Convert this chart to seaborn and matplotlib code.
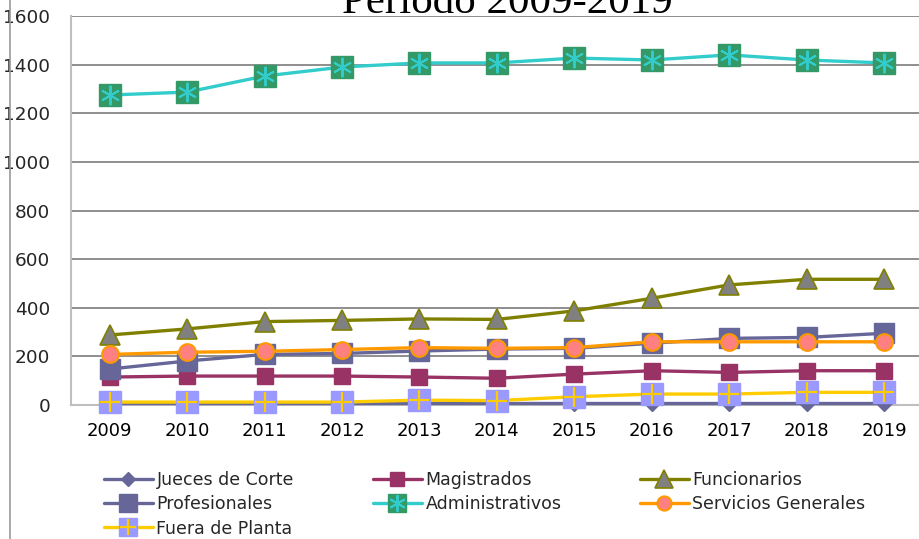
import matplotlib
matplotlib.use("Agg")
import matplotlib.pyplot as plt
import seaborn as sns
from matplotlib.lines import Line2D
from matplotlib.ticker import FixedLocator

years = [2009, 2010, 2011, 2012, 2013, 2014, 2015, 2016, 2017, 2018, 2019]
jueces = [7, 7, 7, 7, 7, 7, 7, 7, 7, 7, 7]
magistrados = [115, 119, 119, 119, 115, 110, 127, 141, 134, 141, 141]
funcionarios = [288, 313, 343, 348, 354, 352, 387, 439, 494, 517, 517]
profesionales = [148, 181, 208, 212, 222, 230, 233, 254, 274, 278, 295]
administrativos = [1275, 1287, 1353, 1390, 1407, 1407, 1427, 1419, 1440, 1419, 1407]
servicios = [208, 217, 221, 228, 236, 233, 236, 260, 260, 260, 260]
fuera = [12, 12, 12, 12, 20, 18, 34, 45, 45, 52, 52]
title = "Periodo 2009-2019"
yticks = [0, 200, 400, 600, 800, 1000, 1200, 1400, 1600]

sns.set_style("white")
plt.rcParams["font.family"] = ["DejaVu Sans"]

fig = plt.figure(figsize=(9.19, 5.39), dpi=100)
ax = fig.add_axes([71 / 919, 1 - 405 / 539, (922.75 - 71) / 919, (405 - 16) / 539])

lw = 2.4


def draw(vals, color, marker, ms, mfc, mec, mew=1.0, zorder=3):
    sns.lineplot(x=years, y=vals, ax=ax, color=color, lw=lw, marker=marker,
                 markersize=ms, markerfacecolor=mfc, markeredgecolor=mec,
                 markeredgewidth=mew, clip_on=False, zorder=zorder)
    return ax.lines[-1]


h_j = draw(jueces, "#666699", "D", 8, "#666699", "#666699", zorder=3)
h_m = draw(magistrados, "#993366", "s", 12, "#993366", "#993366", zorder=3.1)
h_f = draw(funcionarios, "#808000", "^", 15, "#808080", "#808000", 1.2, zorder=3.2)
h_p = draw(profesionales, "#666699", "s", 15, "#666699", "#666699", zorder=3.3)
h_a1 = draw(administrativos, "#33CCCC", "s", 16, "#339966", "#339966", zorder=3.4)
sns.lineplot(x=years, y=administrativos, ax=ax, color="#33CCCC", lw=0, marker=(6, 2, 0),
             markersize=14, markeredgecolor="#33CCCC", markeredgewidth=1.4,
             clip_on=False, zorder=3.45)
h_a2 = ax.lines[-1]
h_s = draw(servicios, "#FF9900", "o", 12, "#FF8080", "#FF9900", 1.5, zorder=3.5)
h_u1 = draw(fuera, "#FFCC00", "s", 16, "#9999FF", "#9999FF", zorder=3.6)
sns.lineplot(x=years, y=fuera, ax=ax, color="#FFCC00", lw=0, marker="+",
             markersize=14, markeredgecolor="#FFCC00", markeredgewidth=1.6,
             clip_on=False, zorder=3.65)
h_u2 = ax.lines[-1]

ax.set_xlim(2008.5, 2019.5)
ax.set_ylim(0, 1600)
ax.set_yticks(yticks)
ax.set_yticklabels([str(v) for v in yticks])
ax.set_xticks(years)
ax.set_xticklabels([str(y) for y in years])
ax.xaxis.set_minor_locator(FixedLocator([y - 0.5 for y in years] + [2019.5]))
ax.tick_params(axis="x", which="major", length=0, pad=12, labelsize=13, colors="black")
ax.tick_params(axis="x", which="minor", length=8, width=1.3, color="#BFBFBF", direction="out")
ax.tick_params(axis="y", which="major", length=8, width=1.3, color="#BFBFBF", direction="out",
               pad=7, labelsize=13.3)
ax.set_xlabel("")
ax.set_ylabel("")
ax.grid(axis="y", color="#868686", lw=1.3)
ax.grid(axis="x", visible=False)
ax.set_axisbelow(True)
for side in ["top", "right"]:
    ax.spines[side].set_visible(False)
for side in ["left", "bottom"]:
    ax.spines[side].set_color("#BFBFBF")
    ax.spines[side].set_linewidth(1.5)

fig.text(507 / 919, 1 - 13 / 539, title, ha="center", va="baseline",
         family=["Liberation Serif", "DejaVu Serif"], fontsize=31, color="black")

fig.add_artist(Line2D([9.5 / 919, 9.5 / 919], [0, 1], color="#9A9A9A", lw=1.2,
                      transform=fig.transFigure))

cols = [
    (104, [(h_j, "Jueces de Corte"), (h_p, "Profesionales"), ((h_u1, h_u2), "Fuera de Planta")]),
    (373, [(h_m, "Magistrados"), ((h_a1, h_a2), "Administrativos")]),
    (640, [(h_f, "Funcionarios"), (h_s, "Servicios Generales")]),
]
for x0, items in cols:
    leg = fig.legend([h for h, _ in items], [t for _, t in items],
                     loc="upper left", bbox_to_anchor=(x0 / 919, 1 - 471 / 539),
                     bbox_transform=fig.transFigure, frameon=False,
                     prop={"family": ["DejaVu Sans"], "size": 12.5},
                     handlelength=2.8, handletextpad=0.22, labelspacing=0.36,
                     borderaxespad=0, borderpad=0, markerscale=0.85)

fig.savefig("out.png", dpi=100)
